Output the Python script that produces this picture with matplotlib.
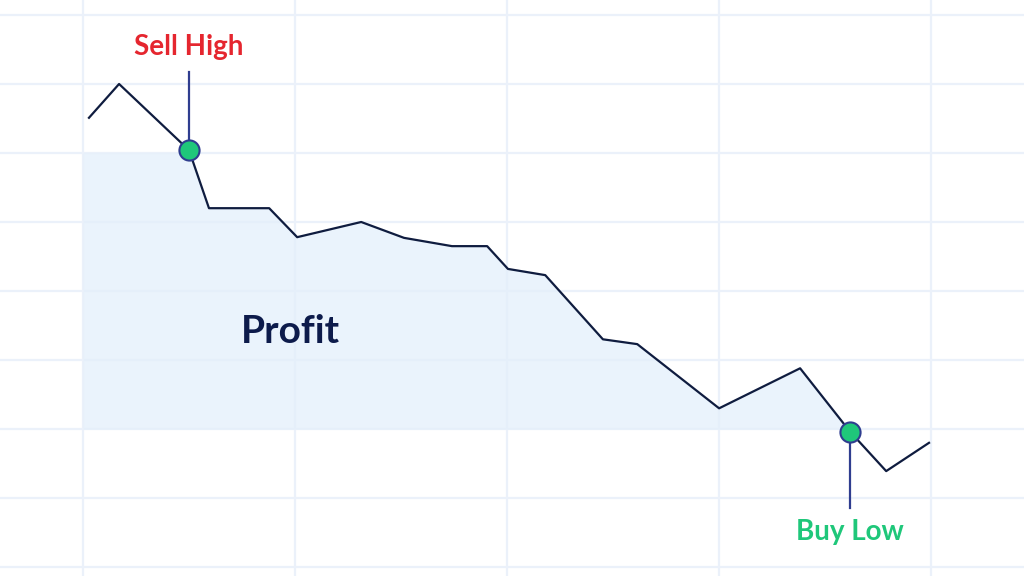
import matplotlib.pyplot as plt
import numpy as np

# price path (time units on x, price on y)
tempo = [0.14, 0.85, 2.50, 2.97, 4.39, 5.05, 6.56, 7.57, 8.70, 9.53,
         10.02, 10.90, 12.26, 13.07, 15.00, 16.91, 18.09, 18.94, 19.95]
preco = [145.1, 150.0, 140.4, 132.0, 132.0, 127.8, 130.0, 127.7, 126.5, 126.5,
         123.2, 122.3, 113.0, 112.3, 103.0, 108.8, 99.6, 93.9, 98.0]

idx_venda = 2    # "Sell High"
idx_compra = 16  # "Buy Low"
nivel_venda = 140
nivel_compra = 100

x_grade = [0, 5, 10, 15, 20]
y_grade = [80, 90, 100, 110, 120, 130, 140, 150, 160]

cor_linha = '#0f1c3f'
cor_haste = '#2f3d8f'
cor_verde = '#1fc77a'
cor_vermelho = '#e5262f'

fig = plt.figure(figsize=(10.24, 5.76), dpi=100)
ax = fig.add_axes([0, 0, 1, 1])
ax.set_xlim(-1.958, 22.19)
ax.set_ylim(78.7, 162.17)
ax.set_xticks(x_grade)
ax.set_yticks(y_grade)
ax.grid(True, color='#ebf1fa', linewidth=1.6)
ax.tick_params(length=0, labelbottom=False, labelleft=False)
for s in ax.spines.values():
    s.set_visible(False)
ax.set_axisbelow(True)

# area de lucro: entre o nivel de venda e o de compra, abaixo da linha
xs = np.concatenate([[0], tempo[:idx_compra + 1]])
topo = np.minimum(np.concatenate([[preco[0]], preco[:idx_compra + 1]]), nivel_venda)
ax.fill_between(xs, nivel_compra, topo, color='#e3effb', alpha=0.75, linewidth=0, zorder=1)

ax.plot(tempo, preco, color=cor_linha, linewidth=1.6, zorder=3)

# hastes dos rotulos
ax.plot([tempo[idx_venda]] * 2, [preco[idx_venda], 151.7], color=cor_haste, linewidth=1.6, zorder=2)
ax.plot([tempo[idx_compra]] * 2, [preco[idx_compra], 88.6], color=cor_haste, linewidth=1.6, zorder=2)

ax.plot([tempo[idx_venda], tempo[idx_compra]], [preco[idx_venda], preco[idx_compra]],
        linestyle='none', marker='o', markersize=14.5, markerfacecolor=cor_verde,
        markeredgecolor=cor_haste, markeredgewidth=1.5, zorder=4)

ax.text(tempo[idx_venda], 155.4, 'Sell High', color=cor_vermelho, fontsize=20,
        fontweight='bold', family='Lato', ha='center', va='center')
ax.text(tempo[idx_compra], 85.1, 'Buy Low', color=cor_verde, fontsize=20,
        fontweight='bold', family='Lato', ha='center', va='center')
ax.text(4.9, 114.2, 'Profit', color='#0d1b4b', fontsize=28,
        fontweight='bold', family='Lato', ha='center', va='center')

fig.savefig('out.png', dpi=100)
